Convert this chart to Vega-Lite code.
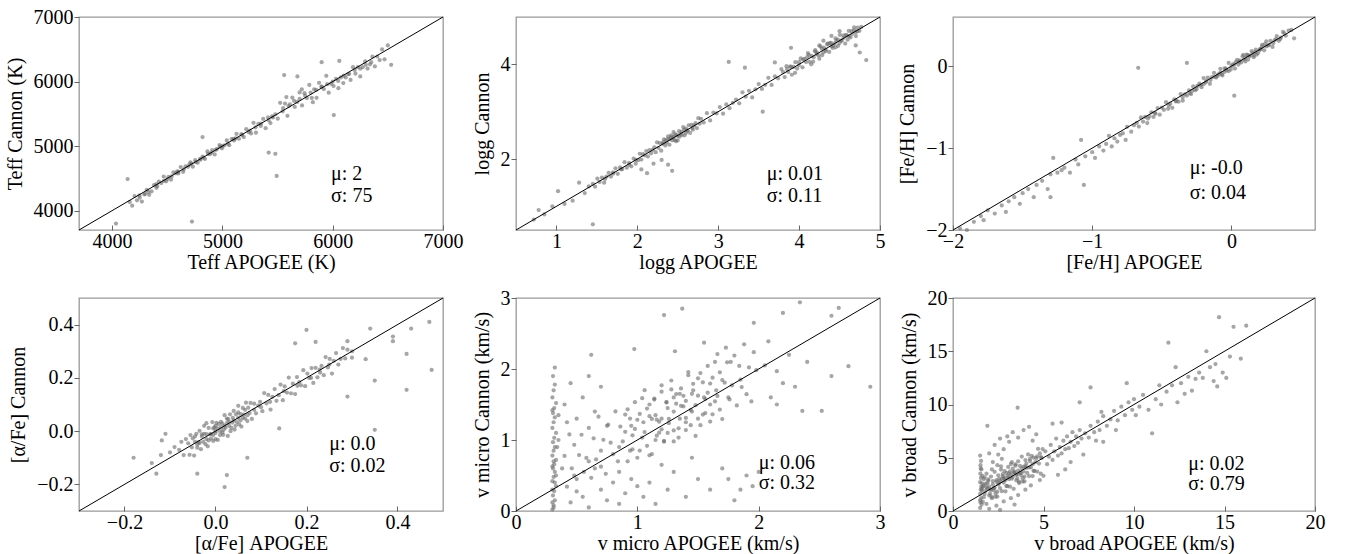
{
"$schema": "https://vega.github.io/schema/vega-lite/v6.json",
"autosize": {"type": "pad"},
"padding": {"left": 4, "top": 6, "right": 5, "bottom": 5},
"background": "white",
"config": {
 "font": "Liberation Serif",
 "view": {"stroke": "#999999", "strokeWidth": 1.3},
 "axis": {"grid": false, "domain": false, "tickColor": "#666666", "tickWidth": 1, "labelFont": "Liberation Serif", "labelFontSize": 20, "labelColor": "#000000", "titleFont": "Liberation Serif", "titleFontSize": 20, "titleFontWeight": "normal", "titleColor": "#000000", "labelFlush": false, "labelOverlap": false, "labelBound": false},
 "axisX": {"tickSize": -5, "labelPadding": 6, "titlePadding": 1},
 "axisY": {"tickSize": 5, "labelPadding": 1, "titlePadding": 8},
 "circle": {"size": 18, "color": "#6a6a6a", "opacity": 0.6},
 "rule": {"color": "#000000", "strokeWidth": 1},
 "text": {"font": "Liberation Serif", "fontSize": 20, "align": "left", "baseline": "middle", "color": "#000000"}
},
"datasets": {
"p1": [
{"x":4160,"y":4134},{"x":4182,"y":4076},{"x":4204,"y":4226},{"x":4226,"y":4160},{"x":4248,"y":4238},{"x":4270,"y":4140},{"x":4292,"y":4250},{"x":4314,"y":4320},{"x":4336,"y":4246},{"x":4358,"y":4300},{"x":4380,"y":4394},{"x":4402,"y":4354},{"x":4424,"y":4448},{"x":4446,"y":4428},{"x":4468,"y":4528},{"x":4490,"y":4454},{"x":4512,"y":4524},{"x":4534,"y":4480},{"x":4556,"y":4592},{"x":4578,"y":4578},{"x":4600,"y":4576},{"x":4622,"y":4676},{"x":4644,"y":4602},{"x":4666,"y":4687},{"x":4688,"y":4679},{"x":4710,"y":4749},{"x":4732,"y":4681},{"x":4754,"y":4781},{"x":4776,"y":4743},{"x":4798,"y":4801},{"x":4820,"y":4838},{"x":4842,"y":4800},{"x":4864,"y":4918},{"x":4886,"y":4874},{"x":4908,"y":4938},{"x":4930,"y":4870},{"x":4952,"y":4958},{"x":4974,"y":5016},{"x":4996,"y":4966},{"x":5018,"y":5012},{"x":5040,"y":5088},{"x":5062,"y":5014},{"x":5084,"y":5108},{"x":5106,"y":5088},{"x":5128,"y":5188},{"x":5150,"y":5114},{"x":5172,"y":5184},{"x":5194,"y":5140},{"x":5216,"y":5262},{"x":5238,"y":5218},{"x":5260,"y":5196},{"x":5282,"y":5361},{"x":5304,"y":5207},{"x":5326,"y":5344},{"x":5348,"y":5312},{"x":5370,"y":5421},{"x":5392,"y":5278},{"x":5414,"y":5444},{"x":5436,"y":5356},{"x":5458,"y":5444},{"x":5480,"y":5493},{"x":5502,"y":5424},{"x":5524,"y":5670},{"x":5546,"y":5538},{"x":5568,"y":5658},{"x":5590,"y":5470},{"x":5612,"y":5646},{"x":5634,"y":5752},{"x":5656,"y":5606},{"x":5678,"y":5684},{"x":5700,"y":5832},{"x":5722,"y":5630},{"x":5744,"y":5820},{"x":5766,"y":5744},{"x":5788,"y":5948},{"x":5810,"y":5746},{"x":5832,"y":5880},{"x":5854,"y":5748},{"x":5876,"y":5980},{"x":5898,"y":5918},{"x":5920,"y":5884},{"x":5942,"y":6088},{"x":5964,"y":5827},{"x":5986,"y":5964},{"x":6008,"y":5931},{"x":6030,"y":6042},{"x":6052,"y":5898},{"x":6074,"y":6064},{"x":6096,"y":5976},{"x":6118,"y":6064},{"x":6140,"y":6113},{"x":6162,"y":6025},{"x":6184,"y":6223},{"x":6206,"y":6124},{"x":6228,"y":6223},{"x":6250,"y":6080},{"x":6272,"y":6223},{"x":6294,"y":6311},{"x":6316,"y":6201},{"x":6338,"y":6267},{"x":6360,"y":6388},{"x":6382,"y":6234},{"x":6404,"y":6388},{"x":6426,"y":6333},{"x":6448,"y":6498},{"x":6470,"y":6344},
{"x":4500,"y":4490},{"x":4700,"y":4710},{"x":4900,"y":4900},{"x":5100,"y":5110},{"x":4600,"y":4600},{"x":4800,"y":4790},{"x":5000,"y":5000},{"x":4400,"y":4410},{"x":5300,"y":5290},{"x":5600,"y":5620},{"x":5800,"y":5830},{"x":6000,"y":6000},{"x":6200,"y":6180},{"x":5450,"y":5460},{"x":5700,"y":5730},{"x":5900,"y":5920},{"x":6100,"y":6090},{"x":6300,"y":6260},{"x":4300,"y":4260},{"x":4250,"y":4200},
{"x":4330,"y":4290},{"x":4410,"y":4380},{"x":4470,"y":4460},{"x":4540,"y":4530},{"x":4590,"y":4610},{"x":4650,"y":4640},{"x":4720,"y":4730},{"x":4760,"y":4750},{"x":4830,"y":4820},{"x":4870,"y":4880},{"x":4940,"y":4940},{"x":4980,"y":4990},{"x":5050,"y":5040},{"x":5120,"y":5120},{"x":5180,"y":5170},{"x":5250,"y":5240},{"x":5350,"y":5350},{"x":5420,"y":5400},{"x":5550,"y":5590},{"x":5650,"y":5700},{"x":5750,"y":5780},{"x":5850,"y":5870},{"x":5950,"y":5960},{"x":6050,"y":6010},{"x":6150,"y":6120},{"x":6250,"y":6200},{"x":6350,"y":6300},{"x":5580,"y":5760},{"x":5720,"y":5880},{"x":5820,"y":5680},
{"x":4035,"y":3800},{"x":4141,"y":4490},{"x":4724,"y":3830},{"x":5492,"y":4537},{"x":5480,"y":4880},{"x":5420,"y":4900},{"x":4820,"y":5140},{"x":5560,"y":6100},{"x":5680,"y":6080},{"x":6010,"y":5480},{"x":6060,"y":6320},{"x":5900,"y":6300},{"x":6530,"y":6260},{"x":6500,"y":6560}
],
"p2": [
{"x":0.72,"y":0.72},{"x":0.78,"y":0.92},{"x":0.85,"y":0.83},{"x":0.95,"y":1.0},{"x":1.02,"y":1.32},{"x":1.1,"y":1.05},{"x":1.2,"y":1.12},{"x":1.28,"y":1.5},{"x":1.35,"y":1.28},{"x":1.45,"y":0.62},{"x":1.4,"y":1.42},
{"x":1.45,"y":1.477},{"x":1.478,"y":1.415},{"x":1.506,"y":1.587},{"x":1.534,"y":1.516},{"x":1.562,"y":1.607},{"x":1.59,"y":1.5},{"x":1.618,"y":1.627},{"x":1.646,"y":1.709},{"x":1.674,"y":1.629},{"x":1.702,"y":1.693},{"x":1.73,"y":1.802},{"x":1.758,"y":1.686},{"x":1.786,"y":1.822},{"x":1.814,"y":1.787},{"x":1.842,"y":1.932},{"x":1.87,"y":1.816},{"x":1.898,"y":1.916},{"x":1.926,"y":1.845},{"x":1.954,"y":2.008},{"x":1.982,"y":1.982},
{"x":2.01,"y":1.974},{"x":2.03,"y":2.111},{"x":2.05,"y":1.987},{"x":2.07,"y":2.102},{"x":2.09,"y":2.077},{"x":2.11,"y":2.169},{"x":2.13,"y":2.054},{"x":2.15,"y":2.19},{"x":2.17,"y":2.12},{"x":2.19,"y":2.195},
{"x":2.21,"y":2.246},{"x":2.227,"y":2.143},{"x":2.244,"y":2.352},{"x":2.261,"y":2.237},{"x":2.278,"y":2.338},{"x":2.295,"y":2.175},{"x":2.312,"y":2.324},{"x":2.329,"y":2.413},{"x":2.346,"y":2.286},{"x":2.363,"y":2.351},{"x":2.38,"y":2.476},{"x":2.397,"y":2.301},{"x":2.414,"y":2.462},{"x":2.431,"y":2.395},{"x":2.448,"y":2.568},{"x":2.465,"y":2.393},{"x":2.482,"y":2.506},{"x":2.499,"y":2.391},{"x":2.516,"y":2.588},{"x":2.533,"y":2.533},{"x":2.55,"y":2.502},{"x":2.567,"y":2.675},{"x":2.584,"y":2.5},{"x":2.601,"y":2.643},{"x":2.618,"y":2.6},{"x":2.635,"y":2.713},{"x":2.652,"y":2.55},{"x":2.669,"y":2.723},{"x":2.686,"y":2.62},{"x":2.703,"y":2.709},{"x":2.72,"y":2.756},{"x":2.737,"y":2.653},{"x":2.754,"y":2.862},{"x":2.771,"y":2.747},{"x":2.788,"y":2.848},
{"x":2.4,"y":2.42},{"x":2.45,"y":2.47},{"x":2.5,"y":2.49},{"x":2.42,"y":2.5},{"x":2.48,"y":2.38},{"x":2.55,"y":2.58},{"x":2.35,"y":2.4},{"x":2.6,"y":2.55},
{"x":2.3,"y":1.98},{"x":2.38,"y":1.88},{"x":2.2,"y":1.9},{"x":2.43,"y":1.75},{"x":2.12,"y":1.7},{"x":2.05,"y":1.78},{"x":1.98,"y":1.9},
{"x":2.82,"y":2.772},{"x":2.86,"y":2.968},{"x":2.9,"y":2.816},{"x":2.94,"y":2.982},{"x":2.98,"y":2.962},{"x":3.02,"y":3.098},{"x":3.06,"y":2.958},{"x":3.1,"y":3.154},{"x":3.14,"y":3.074},{"x":3.18,"y":3.186},{"x":3.22,"y":3.256},{"x":3.26,"y":3.176},{"x":3.3,"y":3.408},{"x":3.34,"y":3.316},{"x":3.38,"y":3.44},{"x":3.42,"y":3.3},{"x":3.46,"y":3.472},{"x":3.5,"y":3.584},{"x":3.54,"y":3.48},{"x":3.58,"y":3.568},{"x":3.62,"y":3.716},{"x":3.66,"y":3.564},{"x":3.7,"y":3.748},{"x":3.74,"y":3.704},{"x":3.78,"y":3.9},
{"x":3.13,"y":4.05},{"x":3.7,"y":4.04},{"x":3.33,"y":3.93},{"x":3.55,"y":3.0},
{"x":3.8,"y":3.839},{"x":3.822,"y":3.731},{"x":3.844,"y":3.961},{"x":3.866,"y":3.84},{"x":3.888,"y":3.953},{"x":3.91,"y":3.78},{"x":3.932,"y":3.945},{"x":3.954,"y":4.045},{"x":3.976,"y":3.911},{"x":3.998,"y":3.985},{"x":4.02,"y":4.124},{"x":4.042,"y":3.938},{"x":4.064,"y":4.116},{"x":4.086,"y":4.047},{"x":4.108,"y":4.238},{"x":4.13,"y":4.052},{"x":4.152,"y":4.178},{"x":4.174,"y":4.057},{"x":4.196,"y":4.274},{"x":4.218,"y":4.218},{"x":4.24,"y":4.188},{"x":4.262,"y":4.379},{"x":4.284,"y":4.193},{"x":4.306,"y":4.352},{"x":4.328,"y":4.309},{"x":4.35,"y":4.435},{"x":4.372,"y":4.262},{"x":4.394,"y":4.453},{"x":4.416,"y":4.345},{"x":4.438,"y":4.445},{"x":4.46,"y":4.499},{"x":4.482,"y":4.391},{"x":4.504,"y":4.621},{"x":4.526,"y":4.5},{"x":4.548,"y":4.613},{"x":4.57,"y":4.44},{"x":4.592,"y":4.605},{"x":4.614,"y":4.705},{"x":4.636,"y":4.571},{"x":4.658,"y":4.645},{"x":4.68,"y":4.78},{"x":4.702,"y":4.598},{"x":4.724,"y":4.776},{"x":4.746,"y":4.707},{"x":4.768,"y":4.79},
{"x":4.2,"y":4.3},{"x":4.3,"y":4.25},{"x":4.4,"y":4.38},{"x":4.5,"y":4.45},{"x":4.55,"y":4.56},{"x":4.6,"y":4.52},{"x":4.65,"y":4.7},{"x":4.1,"y":4.15},{"x":4.0,"y":4.05},{"x":4.35,"y":4.42},{"x":4.45,"y":4.36},{"x":4.7,"y":4.68},{"x":4.25,"y":4.12},{"x":3.95,"y":3.82},{"x":4.15,"y":4.0},{"x":4.4,"y":4.6},{"x":4.5,"y":4.7},{"x":4.3,"y":4.5},
{"x":4.05,"y":4.1},{"x":4.12,"y":4.2},{"x":4.18,"y":4.15},{"x":4.22,"y":4.25},{"x":4.28,"y":4.33},{"x":4.33,"y":4.28},{"x":4.38,"y":4.45},{"x":4.42,"y":4.4},{"x":4.48,"y":4.52},{"x":4.52,"y":4.5},{"x":4.58,"y":4.62},{"x":4.62,"y":4.6},{"x":4.68,"y":4.72},{"x":4.72,"y":4.7},{"x":3.85,"y":3.9},{"x":3.9,"y":3.95},{"x":4.25,"y":4.4},{"x":4.45,"y":4.55},{"x":2.32,"y":2.35},{"x":2.38,"y":2.42},{"x":2.44,"y":2.44},{"x":2.47,"y":2.52},{"x":2.52,"y":2.47},{"x":2.58,"y":2.62},{"x":2.62,"y":2.6},{"x":2.68,"y":2.66},{"x":1.6,"y":1.58},{"x":1.7,"y":1.72},{"x":1.8,"y":1.78},{"x":1.9,"y":1.88},
{"x":4.7,"y":4.4},{"x":4.75,"y":4.25},{"x":4.83,"y":4.09},{"x":3.9,"y":4.35}
],
"p3": [
{"x":-1.95,"y":-1.98},{"x":-1.9,"y":-2.0},{"x":-1.85,"y":-1.9},{"x":-1.8,"y":-1.83},{"x":-1.78,"y":-1.88},{"x":-1.75,"y":-1.76},{"x":-1.7,"y":-1.8},{"x":-1.65,"y":-1.7},{"x":-1.62,"y":-1.78},{"x":-1.6,"y":-1.65},{"x":-1.56,"y":-1.6},{"x":-1.52,"y":-1.68},{"x":-1.5,"y":-1.55},{"x":-1.46,"y":-1.5},{"x":-1.42,"y":-1.6},{"x":-1.4,"y":-1.45},{"x":-1.36,"y":-1.4},{"x":-1.32,"y":-1.5},{"x":-1.3,"y":-1.32},{"x":-1.28,"y":-1.12},{"x":-1.25,"y":-1.3},{"x":-1.22,"y":-1.27},{"x":-1.2,"y":-1.24},{"x":-1.16,"y":-1.3},{"x":-1.12,"y":-1.14},{"x":-1.1,"y":-1.2},{"x":-1.08,"y":-0.9},{"x":-1.06,"y":-1.45},{"x":-1.05,"y":-1.1},{"x":-1.0,"y":-1.05},{"x":-0.98,"y":-1.12},{"x":-0.95,"y":-0.98},{"x":-0.92,"y":-1.03},{"x":-0.9,"y":-0.95},{"x":-0.88,"y":-0.85},{"x":-0.86,"y":-0.98},{"x":-0.84,"y":-0.88},{"x":-0.82,"y":-0.92},{"x":-0.8,"y":-0.84},{"x":-0.78,"y":-0.82},{"x":-0.76,"y":-0.9},{"x":-0.75,"y":-0.74},{"x":-0.72,"y":-0.8},{"x":-0.7,"y":-0.72},{"x":-1.3,"y":-1.6},
{"x":-0.68,"y":-0.692},{"x":-0.665,"y":-0.737},{"x":-0.65,"y":-0.626},{"x":-0.635,"y":-0.677},{"x":-0.62,"y":-0.62},{"x":-0.605,"y":-0.695},{"x":-0.59,"y":-0.614},{"x":-0.575,"y":-0.563},{"x":-0.56,"y":-0.62},{"x":-0.545,"y":-0.581},{"x":-0.53,"y":-0.512},{"x":-0.515,"y":-0.593},{"x":-0.5,"y":-0.506},{"x":-0.485,"y":-0.533},{"x":-0.47,"y":-0.44},{"x":-0.455,"y":-0.521},{"x":-0.44,"y":-0.458},{"x":-0.425,"y":-0.509},{"x":-0.41,"y":-0.404},{"x":-0.395,"y":-0.425},{"x":-0.38,"y":-0.434},{"x":-0.365,"y":-0.341},{"x":-0.35,"y":-0.422},{"x":-0.335,"y":-0.344},{"x":-0.32,"y":-0.359},{"x":-0.305,"y":-0.296},
{"x":-0.29,"y":-0.341},{"x":-0.275,"y":-0.248},{"x":-0.26,"y":-0.293},{"x":-0.245,"y":-0.242},{"x":-0.23,"y":-0.212},{"x":-0.215,"y":-0.257},{"x":-0.2,"y":-0.146},{"x":-0.185,"y":-0.197},{"x":-0.17,"y":-0.14},{"x":-0.155,"y":-0.215},{"x":-0.14,"y":-0.134},{"x":-0.125,"y":-0.083},{"x":-0.11,"y":-0.14},{"x":-0.095,"y":-0.101},{"x":-0.08,"y":-0.032},{"x":-0.065,"y":-0.113},{"x":-0.05,"y":-0.026},{"x":-0.035,"y":-0.053},{"x":-0.02,"y":0.04},{"x":-0.005,"y":-0.041},{"x":0.01,"y":0.022},{"x":0.025,"y":-0.029},{"x":0.04,"y":0.076},{"x":0.055,"y":0.055},{"x":0.07,"y":0.046},{"x":0.085,"y":0.139},{"x":0.1,"y":0.058},{"x":0.115,"y":0.136},{"x":0.13,"y":0.121},{"x":0.145,"y":0.184},{"x":0.16,"y":0.109},{"x":0.175,"y":0.202},{"x":0.19,"y":0.157},{"x":0.205,"y":0.208},{"x":0.22,"y":0.238},{"x":0.235,"y":0.193},{"x":0.25,"y":0.304},{"x":0.265,"y":0.253},{"x":0.28,"y":0.31},{"x":0.295,"y":0.235},{"x":0.31,"y":0.316},{"x":0.325,"y":0.367},{"x":0.34,"y":0.31},{"x":0.355,"y":0.349},{"x":0.37,"y":0.418},{"x":0.39,"y":0.372},{"x":0.41,"y":0.434},{"x":0.43,"y":0.442},
{"x":-0.1,"y":-0.12},{"x":0.0,"y":0.0},{"x":0.1,"y":0.1},{"x":0.2,"y":0.19},{"x":-0.2,"y":-0.22},{"x":0.05,"y":0.02},{"x":0.15,"y":0.16},{"x":-0.05,"y":-0.07},{"x":0.25,"y":0.24},{"x":0.3,"y":0.28},{"x":-0.15,"y":-0.17},{"x":-0.3,"y":-0.33},{"x":-0.4,"y":-0.43},{"x":0.12,"y":0.08},{"x":-0.02,"y":-0.06},{"x":0.08,"y":0.12},{"x":0.18,"y":0.14},{"x":0.22,"y":0.26},{"x":-0.25,"y":-0.28},{"x":0.35,"y":0.33},
{"x":-0.6,"y":-0.64},{"x":-0.55,"y":-0.57},{"x":-0.45,"y":-0.48},{"x":-0.35,"y":-0.38},{"x":-0.28,"y":-0.3},{"x":-0.22,"y":-0.23},{"x":-0.18,"y":-0.18},{"x":-0.12,"y":-0.13},{"x":-0.08,"y":-0.08},{"x":-0.04,"y":-0.03},{"x":0.02,"y":0.02},{"x":0.06,"y":0.07},{"x":0.09,"y":0.08},{"x":0.13,"y":0.13},{"x":0.17,"y":0.17},{"x":0.21,"y":0.21},{"x":0.24,"y":0.27},{"x":0.27,"y":0.26},{"x":0.32,"y":0.33},{"x":0.38,"y":0.4},{"x":0.03,"y":0.05},{"x":-0.07,"y":-0.1},{"x":0.11,"y":0.14},{"x":0.16,"y":0.13},
{"x":0.02,"y":-0.36},{"x":-0.32,"y":0.04},{"x":-0.67,"y":-0.02},{"x":0.45,"y":0.34}
],
"p4": [
{"x":-0.06,"y":-0.046},{"x":-0.057,"y":-0.089},{"x":-0.055,"y":-0.015},{"x":-0.052,"y":-0.061},{"x":-0.05,"y":-0.027},{"x":-0.047,"y":-0.092},{"x":-0.045,"y":-0.04},{"x":-0.042,"y":-0.01},{"x":-0.04,"y":-0.062},{"x":-0.037,"y":-0.041},{"x":-0.035,"y":0.001},{"x":-0.032,"y":-0.068},{"x":-0.03,"y":-0.012},{"x":-0.027,"y":-0.04},{"x":-0.025,"y":0.02},{"x":-0.022,"y":-0.049},{"x":-0.02,"y":-0.011},{"x":-0.017,"y":-0.057},{"x":-0.015,"y":0.012},{"x":-0.012,"y":-0.012},{"x":-0.01,"y":-0.028},{"x":-0.007,"y":0.034},{"x":-0.005,"y":-0.037},{"x":-0.002,"y":0.014},{"x":0.0,"y":-0.007},{"x":0.002,"y":0.031},{"x":0.005,"y":-0.033},{"x":0.007,"y":0.027},{"x":0.01,"y":-0.015},{"x":0.012,"y":0.014},{"x":0.015,"y":0.028},{"x":0.017,"y":-0.014},{"x":0.02,"y":0.06},{"x":0.022,"y":0.013},{"x":0.025,"y":0.047},{"x":0.027,"y":-0.018},{"x":0.03,"y":0.034},{"x":0.032,"y":0.063},{"x":0.035,"y":0.012},{"x":0.037,"y":0.032},{"x":0.04,"y":0.076},{"x":0.042,"y":0.006},{"x":0.045,"y":0.063},{"x":0.047,"y":0.034},{"x":0.05,"y":0.095},{"x":0.052,"y":0.025},{"x":0.055,"y":0.064},{"x":0.057,"y":0.017},{"x":0.06,"y":0.087},{"x":0.062,"y":0.062},{"x":0.065,"y":0.047},{"x":0.067,"y":0.107},{"x":0.07,"y":0.038},{"x":0.072,"y":0.088},{"x":0.075,"y":0.068},{"x":0.077,"y":0.106},
{"x":0.08,"y":0.046},{"x":0.085,"y":0.103},{"x":0.089,"y":0.067},{"x":0.094,"y":0.096},{"x":0.098,"y":0.11},{"x":0.103,"y":0.075},{"x":0.107,"y":0.143},{"x":0.112,"y":0.104},{"x":0.116,"y":0.136},{"x":0.121,"y":0.081},{"x":0.125,"y":0.129},{"x":0.13,"y":0.158},{"x":0.134,"y":0.114},{"x":0.139,"y":0.135},{"x":0.143,"y":0.175},{"x":0.148,"y":0.116},{"x":0.152,"y":0.168},{"x":0.157,"y":0.145},{"x":0.161,"y":0.201},{"x":0.166,"y":0.142},{"x":0.17,"y":0.178},{"x":0.175,"y":0.139},{"x":0.179,"y":0.203},{"x":0.184,"y":0.184},{"x":0.188,"y":0.172},{"x":0.193,"y":0.229},{"x":0.197,"y":0.169},{"x":0.202,"y":0.216},{"x":0.206,"y":0.2},{"x":0.211,"y":0.237},{"x":0.215,"y":0.181},{"x":0.22,"y":0.238},{"x":0.224,"y":0.202},{"x":0.229,"y":0.231},{"x":0.233,"y":0.245},{"x":0.238,"y":0.21},{"x":0.242,"y":0.278},{"x":0.247,"y":0.239},{"x":0.251,"y":0.271},{"x":0.256,"y":0.216},{"x":0.26,"y":0.264},{"x":0.265,"y":0.293},{"x":0.27,"y":0.25},{"x":0.275,"y":0.271},{"x":0.28,"y":0.312},{"x":0.285,"y":0.273},{"x":0.29,"y":0.306},{"x":0.3,"y":0.276},
{"x":0.0,"y":0.0},{"x":0.01,"y":0.0},{"x":-0.01,"y":-0.01},{"x":0.02,"y":0.02},{"x":-0.02,"y":-0.03},{"x":0.03,"y":0.02},{"x":0.04,"y":0.04},{"x":-0.03,"y":-0.02},{"x":0.05,"y":0.05},{"x":0.0,"y":0.02},{"x":-0.04,"y":-0.05},{"x":0.06,"y":0.05},{"x":0.015,"y":-0.005},{"x":-0.005,"y":0.01},{"x":0.025,"y":0.03},
{"x":-0.045,"y":-0.02},{"x":-0.035,"y":-0.045},{"x":-0.025,"y":-0.01},{"x":-0.015,"y":-0.035},{"x":-0.005,"y":-0.015},{"x":0.005,"y":0.01},{"x":0.012,"y":0.035},{"x":0.018,"y":0.005},{"x":0.028,"y":0.045},{"x":0.033,"y":0.0},{"x":0.038,"y":0.05},{"x":0.044,"y":0.02},{"x":0.05,"y":0.07},{"x":0.055,"y":0.04},{"x":0.065,"y":0.08},{"x":0.07,"y":0.06},{"x":0.085,"y":0.08},{"x":0.1,"y":0.09},{"x":0.12,"y":0.11},{"x":0.15,"y":0.15},{"x":0.18,"y":0.17},{"x":0.21,"y":0.2},{"x":0.23,"y":0.22},{"x":0.25,"y":0.25},{"x":-0.02,"y":0.03},{"x":0.0,"y":-0.03},
{"x":-0.1,"y":-0.08},{"x":-0.09,"y":-0.06},{"x":-0.08,"y":-0.07},{"x":-0.075,"y":-0.04},{"x":-0.07,"y":-0.09},{"x":-0.065,"y":-0.03},{"x":-0.12,"y":-0.09},{"x":-0.14,"y":-0.12},
{"x":-0.18,"y":-0.1},{"x":-0.13,"y":-0.16},{"x":-0.118,"y":-0.035},{"x":-0.11,"y":-0.01},{"x":-0.04,"y":-0.16},{"x":0.02,"y":-0.21},{"x":0.025,"y":-0.165},{"x":0.07,"y":-0.1},{"x":0.14,"y":0.01},{"x":0.175,"y":0.33},{"x":0.2,"y":0.38},{"x":0.22,"y":0.335},{"x":0.29,"y":0.338},{"x":0.29,"y":0.13},{"x":0.34,"y":0.385},{"x":0.35,"y":0.19},{"x":0.35,"y":0.005},{"x":0.39,"y":0.338},{"x":0.39,"y":0.355},{"x":0.42,"y":0.29},{"x":0.42,"y":0.155},{"x":0.43,"y":0.385},{"x":0.47,"y":0.41},{"x":0.475,"y":0.23},{"x":0.33,"y":0.27},{"x":0.3,"y":0.3}
],
"p5": [
{"x":0.3,"y":0.02},{"x":0.31,"y":0.08},{"x":0.32,"y":0.15},{"x":0.305,"y":0.22},{"x":0.315,"y":0.28},{"x":0.33,"y":0.35},{"x":0.3,"y":0.42},{"x":0.31,"y":0.48},{"x":0.32,"y":0.55},{"x":0.305,"y":0.6},{"x":0.315,"y":0.66},{"x":0.33,"y":0.72},{"x":0.3,"y":0.78},{"x":0.31,"y":0.85},{"x":0.32,"y":0.9},{"x":0.305,"y":0.97},{"x":0.315,"y":1.03},{"x":0.33,"y":1.1},{"x":0.3,"y":1.17},{"x":0.31,"y":1.25},{"x":0.32,"y":1.32},{"x":0.305,"y":1.38},{"x":0.315,"y":1.45},{"x":0.33,"y":1.52},{"x":0.3,"y":1.6},{"x":0.31,"y":1.7},{"x":0.32,"y":1.78},{"x":0.305,"y":1.9},{"x":0.32,"y":2.02},{"x":0.3,"y":0.12},{"x":0.33,"y":0.5},{"x":0.3,"y":0.63},{"x":0.32,"y":0.4},{"x":0.31,"y":0.7},{"x":0.3,"y":0.3},{"x":0.34,"y":0.9},{"x":0.35,"y":1.35},{"x":0.3,"y":1.42},{"x":0.31,"y":0.05},
{"x":0.4,"y":0.775},{"x":0.42,"y":0.342},{"x":0.44,"y":1.079},{"x":0.46,"y":0.601},{"x":0.48,"y":0.933},{"x":0.5,"y":0.275},{"x":0.52,"y":0.787},{"x":0.54,"y":1.074},{"x":0.56,"y":0.551},{"x":0.58,"y":0.748},{"x":0.6,"y":1.17},{"x":0.62,"y":0.467},{"x":0.64,"y":1.024},{"x":0.66,"y":0.726},{"x":0.68,"y":1.328},{"x":0.7,"y":0.625},{"x":0.72,"y":1.002},{"x":0.74,"y":0.524},{"x":0.76,"y":1.216},{"x":0.78,"y":0.963},{"x":0.8,"y":0.8},{"x":0.82,"y":1.402},{"x":0.84,"y":0.699},{"x":0.86,"y":1.189},{"x":0.88,"y":0.98},{"x":0.9,"y":1.358},{"x":0.92,"y":0.699},{"x":0.94,"y":1.302},{"x":0.96,"y":0.868},{"x":0.98,"y":1.156},{"x":1.0,"y":1.285},{"x":1.02,"y":0.852},{"x":1.04,"y":1.589},{"x":1.06,"y":1.111},{"x":1.08,"y":1.443},{"x":1.1,"y":0.785},{"x":1.12,"y":1.297},{"x":1.14,"y":1.584},{"x":1.16,"y":1.061},{"x":1.18,"y":1.258},{"x":1.2,"y":1.68},{"x":1.22,"y":0.977},{"x":1.24,"y":1.534},{"x":1.26,"y":1.236},{"x":1.28,"y":1.838},{"x":1.3,"y":1.135},{"x":1.32,"y":1.512},{"x":1.34,"y":1.034},{"x":1.36,"y":1.726},{"x":1.38,"y":1.473},{"x":1.4,"y":1.31},{"x":1.42,"y":1.912},{"x":1.44,"y":1.209},{"x":1.46,"y":1.699},{"x":1.48,"y":1.491},{"x":1.5,"y":1.868},{"x":1.52,"y":1.209},{"x":1.54,"y":1.812},{"x":1.56,"y":1.379},{"x":1.58,"y":1.666},{"x":1.6,"y":1.795},{"x":1.62,"y":1.362},{"x":1.64,"y":2.099},{"x":1.66,"y":1.621},{"x":1.68,"y":1.953},{"x":1.7,"y":1.295},{"x":1.72,"y":1.807},{"x":1.74,"y":2.094},{"x":1.76,"y":1.571},{"x":1.78,"y":1.768},{"x":1.8,"y":2.19},{"x":1.82,"y":1.487},{"x":1.84,"y":2.044},{"x":1.86,"y":1.746},{"x":1.88,"y":2.348},{"x":1.9,"y":1.645},{"x":1.92,"y":2.022},{"x":1.94,"y":1.544},{"x":1.96,"y":2.236},{"x":1.98,"y":1.983},
{"x":0.9,"y":1.115},{"x":0.92,"y":1.432},{"x":0.94,"y":0.849},{"x":0.96,"y":1.066},{"x":0.98,"y":1.533},{"x":1.0,"y":0.75},{"x":1.02,"y":1.367},{"x":1.04,"y":1.034},{"x":1.06,"y":1.701},{"x":1.08,"y":0.918},{"x":1.1,"y":1.335},{"x":1.12,"y":0.802},{"x":1.14,"y":1.569},{"x":1.16,"y":1.286},{"x":1.18,"y":1.103},{"x":1.2,"y":1.77},{"x":1.22,"y":0.987},{"x":1.24,"y":1.529},{"x":1.26,"y":1.296},{"x":1.28,"y":1.713},{"x":1.3,"y":0.98},{"x":1.32,"y":1.647},{"x":1.34,"y":1.164},{"x":1.36,"y":1.481},{"x":1.38,"y":1.623},{"x":1.4,"y":1.14},{"x":1.42,"y":1.957},{"x":1.44,"y":1.424},{"x":1.46,"y":1.791},{"x":1.48,"y":1.058},{"x":1.5,"y":1.625},{"x":1.52,"y":1.942},{"x":1.54,"y":1.359},{"x":1.56,"y":1.576},{"x":1.58,"y":2.043},{"x":1.6,"y":1.26},{"x":1.62,"y":1.877},{"x":1.64,"y":1.544},{"x":1.66,"y":2.211},{"x":1.68,"y":1.428},{"x":1.7,"y":1.845},
{"x":1.05,"y":1.25},{"x":1.1,"y":1.5},{"x":1.15,"y":1.35},{"x":1.2,"y":1.15},{"x":1.25,"y":1.45},{"x":1.3,"y":1.6},{"x":1.35,"y":1.3},{"x":1.4,"y":1.55},{"x":1.45,"y":1.4},{"x":1.5,"y":1.3},{"x":1.55,"y":1.6},{"x":1.6,"y":1.5},{"x":1.65,"y":1.7},{"x":1.25,"y":1.1},{"x":1.35,"y":1.65},{"x":1.15,"y":1.0},{"x":1.45,"y":1.65},{"x":1.3,"y":1.4},{"x":1.2,"y":1.3},{"x":1.4,"y":1.25},{"x":0.85,"y":0.9},{"x":0.95,"y":1.2},{"x":0.7,"y":0.85},{"x":0.6,"y":0.7},{"x":1.75,"y":1.6},{"x":1.85,"y":1.85},
{"x":0.45,"y":0.12},{"x":0.55,"y":0.2},{"x":0.6,"y":0.05},{"x":0.7,"y":0.3},{"x":0.75,"y":0.15},{"x":0.85,"y":0.1},{"x":0.9,"y":0.25},{"x":0.95,"y":0.45},{"x":1.05,"y":0.2},{"x":1.1,"y":0.4},{"x":1.15,"y":0.1},{"x":1.25,"y":0.3},{"x":1.3,"y":0.55},{"x":1.4,"y":0.2},{"x":1.5,"y":0.45},{"x":1.6,"y":0.3},{"x":1.7,"y":0.6},{"x":1.8,"y":0.15},{"x":1.9,"y":0.5},{"x":1.95,"y":0.35},{"x":0.65,"y":0.6},{"x":0.5,"y":0.45},{"x":0.85,"y":0.55},{"x":1.2,"y":0.65},{"x":1.45,"y":0.75},{"x":1.0,"y":0.35},{"x":0.8,"y":0.4},{"x":1.85,"y":0.3},{"x":2.0,"y":0.55},{"x":1.75,"y":0.45},
{"x":0.4,"y":1.5},{"x":0.45,"y":1.8},{"x":0.5,"y":1.3},{"x":0.55,"y":1.6},{"x":0.6,"y":1.9},{"x":0.65,"y":1.4},{"x":0.7,"y":1.75},{"x":0.75,"y":1.2},{"x":0.35,"y":1.0},{"x":0.38,"y":0.6},{"x":0.42,"y":1.25},{"x":0.48,"y":0.5},{"x":0.62,"y":2.2},
{"x":1.22,"y":2.76},{"x":1.37,"y":2.85},{"x":0.975,"y":2.28},{"x":2.34,"y":2.94},{"x":2.2,"y":2.79},{"x":2.66,"y":2.86},{"x":2.6,"y":2.75},{"x":2.92,"y":1.75},{"x":2.74,"y":2.04},{"x":2.52,"y":1.41},{"x":2.36,"y":1.41},{"x":2.6,"y":1.9},{"x":1.31,"y":2.25},{"x":1.55,"y":2.37},{"x":1.96,"y":2.65},{"x":2.08,"y":2.39},{"x":2.15,"y":1.97},{"x":2.3,"y":1.75},{"x":1.77,"y":2.1},{"x":1.73,"y":2.3},{"x":2.1,"y":1.6},{"x":2.2,"y":1.8},{"x":2.05,"y":2.05},{"x":2.25,"y":2.2},{"x":2.4,"y":2.1},{"x":2.15,"y":1.5}
],
"p6": [
{"x":1.5,"y":0.3},{"x":1.52,"y":0.8},{"x":1.55,"y":1.2},{"x":1.5,"y":1.6},{"x":1.53,"y":2.0},{"x":1.56,"y":2.3},{"x":1.5,"y":2.7},{"x":1.54,"y":3.1},{"x":1.51,"y":3.5},{"x":1.57,"y":3.9},{"x":1.52,"y":4.3},{"x":1.55,"y":4.7},{"x":1.5,"y":5.2},{"x":1.58,"y":0.6},{"x":1.6,"y":1.9},{"x":1.6,"y":2.6},{"x":1.62,"y":3.3},{"x":1.5,"y":1.0},{"x":1.53,"y":4.0},
{"x":1.6,"y":2.11},{"x":1.65,"y":0.858},{"x":1.7,"y":2.985},{"x":1.75,"y":1.603},{"x":1.8,"y":2.56},{"x":1.85,"y":0.658},{"x":1.9,"y":2.135},{"x":1.95,"y":2.963},{"x":2.0,"y":1.45},{"x":2.05,"y":2.018},{"x":2.1,"y":3.235},{"x":2.15,"y":1.203},{"x":2.2,"y":2.81},{"x":2.25,"y":1.948},{"x":2.3,"y":3.685},{"x":2.35,"y":1.653},{"x":2.4,"y":2.74},{"x":2.45,"y":1.358},{"x":2.5,"y":3.355},{"x":2.55,"y":2.623},{"x":2.6,"y":2.15},{"x":2.65,"y":3.888},{"x":2.7,"y":1.855},{"x":2.75,"y":3.268},{"x":2.8,"y":2.665},{"x":2.85,"y":3.753},{"x":2.9,"y":1.85},{"x":2.95,"y":3.588},{"x":3.0,"y":2.335},{"x":3.05,"y":3.163},{"x":3.1,"y":3.535},{"x":3.15,"y":2.283},{"x":3.2,"y":4.41},{"x":3.25,"y":3.028},{"x":3.3,"y":3.985},{"x":3.35,"y":2.083},{"x":3.4,"y":3.56},{"x":3.45,"y":4.388},{"x":3.5,"y":2.875},{"x":3.55,"y":3.443},{"x":3.6,"y":4.66},{"x":3.65,"y":2.628},{"x":3.7,"y":4.235},{"x":3.75,"y":3.373},{"x":3.8,"y":5.11},{"x":3.85,"y":3.078},{"x":3.9,"y":4.165},{"x":3.95,"y":2.783},{"x":4.0,"y":4.78},{"x":4.05,"y":4.048},{"x":4.1,"y":3.575},{"x":4.15,"y":5.313},{"x":4.2,"y":3.28},{"x":4.25,"y":4.693},{"x":4.3,"y":4.09},{"x":4.35,"y":5.178},{"x":4.4,"y":3.275},{"x":4.45,"y":5.013},{"x":4.5,"y":3.76},{"x":4.55,"y":4.588},{"x":4.6,"y":4.96},{"x":4.65,"y":3.708},{"x":4.7,"y":5.835},{"x":4.75,"y":4.453},{"x":4.8,"y":5.41},{"x":4.85,"y":3.508},{"x":4.9,"y":4.985},{"x":4.95,"y":5.813},
{"x":1.65,"y":2.288},{"x":1.75,"y":3.163},{"x":1.85,"y":2.218},{"x":1.95,"y":2.833},{"x":2.05,"y":1.628},{"x":2.15,"y":1.333},{"x":2.25,"y":2.143},{"x":2.35,"y":1.328},{"x":2.45,"y":1.813},{"x":2.55,"y":3.013},{"x":2.65,"y":4.2},{"x":2.75,"y":3.463},{"x":2.85,"y":3.038},{"x":2.95,"y":2.353},{"x":3.05,"y":4.138},{"x":3.15,"y":3.713},{"x":3.25,"y":4.588},{"x":3.35,"y":3.643},{"x":3.45,"y":4.258},{"x":3.55,"y":3.053},{"x":3.65,"y":2.758},{"x":3.75,"y":3.568},{"x":3.85,"y":2.753},{"x":3.95,"y":3.238},{"x":4.05,"y":4.438},{"x":4.25,"y":4.888},{"x":4.45,"y":3.778},{"x":4.65,"y":5.138},{"x":4.85,"y":5.068},
{"x":1.7,"y":2.4},{"x":1.8,"y":1.9},{"x":1.9,"y":2.6},{"x":2.0,"y":2.3},{"x":2.1,"y":2.0},{"x":2.2,"y":2.5},{"x":2.3,"y":2.2},{"x":2.4,"y":2.9},{"x":2.5,"y":2.5},{"x":2.6,"y":2.8},{"x":2.7,"y":3.0},{"x":2.8,"y":3.1},{"x":2.9,"y":2.9},{"x":3.0,"y":3.3},{"x":3.1,"y":3.0},{"x":3.2,"y":3.4},{"x":3.3,"y":3.2},{"x":3.4,"y":3.7},{"x":3.5,"y":3.4},{"x":3.6,"y":3.8},{"x":3.7,"y":3.6},{"x":3.8,"y":4.0},{"x":3.9,"y":3.7},{"x":4.0,"y":4.2},{"x":4.2,"y":4.1},{"x":4.4,"y":4.4},{"x":1.7,"y":1.3},{"x":1.85,"y":3.5},{"x":2.15,"y":3.9},{"x":2.45,"y":4.3},
{"x":2.0,"y":5.4},{"x":2.3,"y":6.2},{"x":2.6,"y":6.8},{"x":1.9,"y":8.0},{"x":2.8,"y":5.8},{"x":3.1,"y":6.5},{"x":3.3,"y":7.4},{"x":3.57,"y":9.7},{"x":3.6,"y":6.9},{"x":3.9,"y":7.6},{"x":4.2,"y":7.9},{"x":4.4,"y":6.6},{"x":3.0,"y":7.0},{"x":2.5,"y":5.3},{"x":4.6,"y":7.2},{"x":2.2,"y":4.6},{"x":2.7,"y":4.9},
{"x":2.0,"y":0.2},{"x":2.4,"y":0.5},{"x":2.8,"y":0.9},{"x":3.2,"y":1.2},{"x":3.6,"y":1.5},{"x":4.0,"y":2.0},{"x":4.3,"y":2.4},{"x":4.8,"y":2.9},{"x":2.6,"y":0.1},{"x":3.4,"y":0.6},{"x":5.0,"y":3.3},
{"x":5.1,"y":5.6},{"x":5.2,"y":4.4},{"x":5.3,"y":5.1},{"x":5.4,"y":6.2},{"x":5.5,"y":4.8},{"x":5.6,"y":5.6},{"x":5.7,"y":6.8},{"x":5.8,"y":5.2},{"x":5.9,"y":6.0},{"x":6.0,"y":5.4},{"x":6.1,"y":6.6},{"x":6.2,"y":5.8},{"x":6.3,"y":7.0},{"x":6.4,"y":5.9},{"x":6.5,"y":6.5},{"x":6.6,"y":7.4},{"x":6.7,"y":6.1},{"x":6.8,"y":7.0},{"x":6.9,"y":6.4},{"x":7.0,"y":7.6},{"x":7.1,"y":6.8},{"x":7.3,"y":7.3},{"x":7.5,"y":6.9},{"x":7.6,"y":8.0},{"x":7.8,"y":7.4},{"x":8.0,"y":8.4},{"x":8.1,"y":7.6},{"x":8.3,"y":8.9},{"x":8.5,"y":8.0},{"x":8.7,"y":8.6},{"x":8.9,"y":9.4},{"x":9.1,"y":8.5},{"x":9.3,"y":9.8},{"x":9.5,"y":9.0},{"x":9.7,"y":10.2},{"x":9.9,"y":9.5},{"x":5.5,"y":8.2},{"x":6.0,"y":8.3},{"x":7.0,"y":10.2},{"x":7.6,"y":11.6},{"x":6.2,"y":3.9},{"x":5.8,"y":3.4},{"x":6.5,"y":4.6},{"x":7.2,"y":5.3},{"x":8.3,"y":6.5},{"x":9.0,"y":7.6},{"x":10.0,"y":10.5},{"x":10.3,"y":9.8},{"x":9.6,"y":12.0},{"x":8.2,"y":9.3},{"x":7.9,"y":6.6},
{"x":10.5,"y":10.9},{"x":10.8,"y":9.5},{"x":11.0,"y":7.3},{"x":11.2,"y":10.5},{"x":11.5,"y":10.0},{"x":11.8,"y":11.2},{"x":11.9,"y":15.8},{"x":12.1,"y":11.8},{"x":12.3,"y":13.5},{"x":12.4,"y":10.2},{"x":12.6,"y":12.0},{"x":12.8,"y":11.0},{"x":13.0,"y":12.6},{"x":13.4,"y":12.4},{"x":13.6,"y":13.0},{"x":13.8,"y":12.5},{"x":14.0,"y":15.0},{"x":14.2,"y":13.5},{"x":14.4,"y":12.2},{"x":14.5,"y":13.8},{"x":14.6,"y":11.7},{"x":14.7,"y":18.2},{"x":14.9,"y":13.0},{"x":15.1,"y":12.5},{"x":15.3,"y":14.5},{"x":15.5,"y":17.3},{"x":16.2,"y":17.4},{"x":15.9,"y":14.3},{"x":13.2,"y":11.3},{"x":10.1,"y":9.0},{"x":11.4,"y":11.8}
]
},
"columns": 3,
"spacing": {"row": 68, "column": 73},
"bounds": "flush",
"concat": [
 {"width": 364, "height": 213, "layer": [
  {"data": {"name": "p1"}, "mark": "circle", "encoding": {
   "x": {"field": "x", "type": "quantitative", "scale": {"domain": [3700, 7000], "nice": false, "zero": false}, "axis": {"title": "Teff APOGEE (K)", "values": [4000, 5000, 6000, 7000], "format": "d"}},
   "y": {"field": "y", "type": "quantitative", "scale": {"domain": [3700, 7000], "nice": false, "zero": false}, "axis": {"title": "Teff Cannon (K)", "values": [4000, 5000, 6000, 7000], "format": "d"}}}},
  {"data": {"values": [{"x": 3700, "y": 3700, "x2": 7000, "y2": 7000}]}, "mark": "rule", "encoding": {"x": {"field": "x", "type": "quantitative"}, "y": {"field": "y", "type": "quantitative"}, "x2": {"field": "x2"}, "y2": {"field": "y2"}}},
  {"data": {"values": [{"x": 5985, "y": 4570, "t": "μ: 2"}, {"x": 5985, "y": 4230, "t": "σ: 75"}]}, "mark": "text", "encoding": {"x": {"field": "x", "type": "quantitative"}, "y": {"field": "y", "type": "quantitative"}, "text": {"field": "t"}}}
 ]},
 {"width": 364, "height": 213, "layer": [
  {"data": {"name": "p2"}, "mark": "circle", "encoding": {
   "x": {"field": "x", "type": "quantitative", "scale": {"domain": [0.5, 5], "nice": false, "zero": false}, "axis": {"title": "logg APOGEE", "values": [1, 2, 3, 4, 5], "format": "d"}},
   "y": {"field": "y", "type": "quantitative", "scale": {"domain": [0.5, 5], "nice": false, "zero": false}, "axis": {"title": "logg Cannon", "values": [2, 4], "format": "d"}}}},
  {"data": {"values": [{"x": 0.5, "y": 0.5, "x2": 5, "y2": 5}]}, "mark": "rule", "encoding": {"x": {"field": "x", "type": "quantitative"}, "y": {"field": "y", "type": "quantitative"}, "x2": {"field": "x2"}, "y2": {"field": "y2"}}},
  {"data": {"values": [{"x": 3.6, "y": 1.68, "t": "μ: 0.01"}, {"x": 3.6, "y": 1.22, "t": "σ: 0.11"}]}, "mark": "text", "encoding": {"x": {"field": "x", "type": "quantitative"}, "y": {"field": "y", "type": "quantitative"}, "text": {"field": "t"}}}
 ]},
 {"width": 362, "height": 213, "layer": [
  {"data": {"name": "p3"}, "mark": "circle", "encoding": {
   "x": {"field": "x", "type": "quantitative", "scale": {"domain": [-2, 0.6], "nice": false, "zero": false}, "axis": {"title": "[Fe/H] APOGEE", "values": [-2, -1, 0], "format": "d"}},
   "y": {"field": "y", "type": "quantitative", "scale": {"domain": [-2, 0.6], "nice": false, "zero": false}, "axis": {"title": "[Fe/H] Cannon", "values": [-2, -1, 0], "format": "d"}}}},
  {"data": {"values": [{"x": -2, "y": -2, "x2": 0.6, "y2": 0.6}]}, "mark": "rule", "encoding": {"x": {"field": "x", "type": "quantitative"}, "y": {"field": "y", "type": "quantitative"}, "x2": {"field": "x2"}, "y2": {"field": "y2"}}},
  {"data": {"values": [{"x": -0.3, "y": -1.24, "t": "μ: -0.0"}, {"x": -0.3, "y": -1.545, "t": "σ: 0.04"}]}, "mark": "text", "encoding": {"x": {"field": "x", "type": "quantitative"}, "y": {"field": "y", "type": "quantitative"}, "text": {"field": "t"}}}
 ]},
 {"width": 364, "height": 213, "layer": [
  {"data": {"name": "p4"}, "mark": "circle", "encoding": {
   "x": {"field": "x", "type": "quantitative", "scale": {"domain": [-0.3, 0.5], "nice": false, "zero": false}, "axis": {"title": "[α/Fe] APOGEE", "values": [-0.2, 0, 0.2, 0.4], "format": ".1f"}},
   "y": {"field": "y", "type": "quantitative", "scale": {"domain": [-0.3, 0.5], "nice": false, "zero": false}, "axis": {"title": "[α/Fe] Cannon", "values": [-0.2, 0, 0.2, 0.4], "format": ".1f"}}}},
  {"data": {"values": [{"x": -0.3, "y": -0.3, "x2": 0.5, "y2": 0.5}]}, "mark": "rule", "encoding": {"x": {"field": "x", "type": "quantitative"}, "y": {"field": "y", "type": "quantitative"}, "x2": {"field": "x2"}, "y2": {"field": "y2"}}},
  {"data": {"values": [{"x": 0.25, "y": -0.05, "t": "μ: 0.0"}, {"x": 0.25, "y": -0.13, "t": "σ: 0.02"}]}, "mark": "text", "encoding": {"x": {"field": "x", "type": "quantitative"}, "y": {"field": "y", "type": "quantitative"}, "text": {"field": "t"}}}
 ]},
 {"width": 364, "height": 213, "layer": [
  {"data": {"name": "p5"}, "mark": "circle", "encoding": {
   "x": {"field": "x", "type": "quantitative", "scale": {"domain": [0, 3], "nice": false, "zero": false}, "axis": {"title": "v micro APOGEE (km/s)", "values": [0, 1, 2, 3], "format": "d"}},
   "y": {"field": "y", "type": "quantitative", "scale": {"domain": [0, 3], "nice": false, "zero": false}, "axis": {"title": "v micro Cannon (km/s)", "values": [0, 1, 2, 3], "format": "d"}}}},
  {"data": {"values": [{"x": 0, "y": 0, "x2": 3, "y2": 3}]}, "mark": "rule", "encoding": {"x": {"field": "x", "type": "quantitative"}, "y": {"field": "y", "type": "quantitative"}, "x2": {"field": "x2"}, "y2": {"field": "y2"}}},
  {"data": {"values": [{"x": 2.0, "y": 0.67, "t": "μ: 0.06"}, {"x": 2.0, "y": 0.39, "t": "σ: 0.32"}]}, "mark": "text", "encoding": {"x": {"field": "x", "type": "quantitative"}, "y": {"field": "y", "type": "quantitative"}, "text": {"field": "t"}}}
 ]},
 {"width": 362, "height": 213, "layer": [
  {"data": {"name": "p6"}, "mark": "circle", "encoding": {
   "x": {"field": "x", "type": "quantitative", "scale": {"domain": [0, 20], "nice": false, "zero": false}, "axis": {"title": "v broad APOGEE (km/s)", "values": [0, 5, 10, 15, 20], "format": "d"}},
   "y": {"field": "y", "type": "quantitative", "scale": {"domain": [0, 20], "nice": false, "zero": false}, "axis": {"title": "v broad Cannon (km/s)", "values": [0, 5, 10, 15, 20], "format": "d"}}}},
  {"data": {"values": [{"x": 0, "y": 0, "x2": 20, "y2": 20}]}, "mark": "rule", "encoding": {"x": {"field": "x", "type": "quantitative"}, "y": {"field": "y", "type": "quantitative"}, "x2": {"field": "x2"}, "y2": {"field": "y2"}}},
  {"data": {"values": [{"x": 13.0, "y": 4.45, "t": "μ: 0.02"}, {"x": 13.0, "y": 2.55, "t": "σ: 0.79"}]}, "mark": "text", "encoding": {"x": {"field": "x", "type": "quantitative"}, "y": {"field": "y", "type": "quantitative"}, "text": {"field": "t"}}}
 ]}
]
}
